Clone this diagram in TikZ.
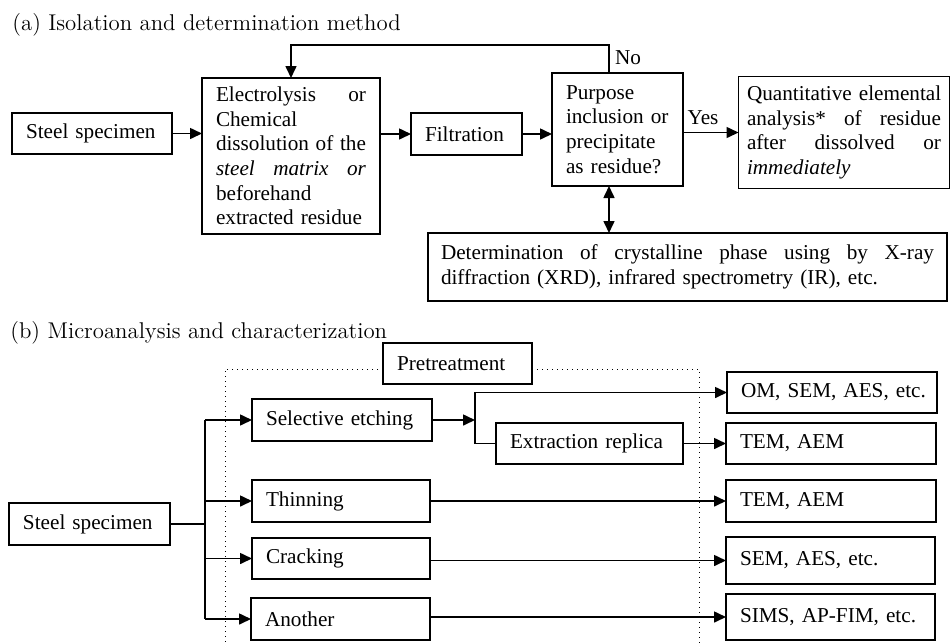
\documentclass[tikz,border=0pt]{standalone}
\usepackage{fontspec}
\usetikzlibrary{arrows.meta}
\newfontfamily\bodyfont{Liberation Serif}
\newfontfamily\titlefont{Latin Modern Roman}
\tikzset{
  every node/.style={font=\bodyfont\fontsize{10.6}{12.3}\selectfont},
  bx/.style={draw, line width=0.8pt, inner xsep=7pt, inner ysep=0pt, outer sep=0pt, align=left},
  ttl/.style={font=\titlefont\fontsize{11.4}{13}\selectfont, anchor=base west, inner sep=0pt},
  lbl/.style={inner sep=0pt},
  arr/.style={line width=0.8pt, -{Triangle[length=6pt,width=5.5pt]}},
  arrb/.style={line width=0.8pt, {Triangle[length=6pt,width=5.5pt]}-{Triangle[length=6pt,width=5.5pt]}},
  ln/.style={line width=0.8pt},
  frame/.style={line width=0.5pt, dotted}
}
\begin{document}
\begin{tikzpicture}[x=0.5pt,y=-0.5pt]
\useasboundingbox (0,0) rectangle (950,644);
% ---------- (a)
\node[ttl] (ta) at (12,30) {(a) Isolation and determination method};
\node[bx, text width=66pt, minimum height=20.5pt] (s1) at (92,133.5) {\mbox{Steel specimen}};
\node[bx, text width=75pt, minimum height=78pt] (e1) at (291,156)
  {Electrolysis\hfill or\\ Chemical\\ dissolution\hfill of\hfill the\\ \textit{steel\hfill matrix\hfill or}\\ beforehand\\ extracted residue};
\node[bx, text width=41.5pt, minimum height=21pt] (f1) at (466.5,134) {\mbox{Filtration}};
\node[bx, text width=51.5pt, minimum height=56.5pt] (p1) at (617.5,129.5)
  {Purpose\\ \mbox{inclusion or}\\ precipitate\\ as residue?};
\node[bx, inner xsep=0pt, text width=97pt, minimum width=105.5pt, minimum height=56pt] (q1) at (844,132.5)
  {\mbox{Quantitative elemental}\\ analysis*\hfill of\hfill residue\\ after\hfill dissolved\hfill or\\ \textit{immediately}};
\node[bx, inner xsep=6.5pt, text width=246.5pt, minimum height=34pt] (det) at (687.5,267)
  {Determination\hfill of\hfill crystalline\hfill phase\hfill using\hfill by\hfill X-ray\\ diffraction (XRD), infrared spectrometry (IR), etc.};
\coordinate (fb) at (609,45);
\draw[arr] (s1.east) -- (s1.east -| e1.west);
\draw[arr] (f1.west -| e1.east) -- (f1.west);
\draw[arr] (f1.east) -- (f1.east -| p1.west);
\draw[arr] (q1.west -| p1.east) -- (q1.west);
\node[lbl] (yes) at (703,118) {Yes};
\draw[arr] (fb |- p1.north) -- (fb) -| (e1.north);
\node[lbl] (no) at (628,58) {No};
\draw[arrb] (fb |- p1.south) -- (fb |- det.north);
% ---------- (b)
\node[ttl] (tb) at (10,338) {(b) Microanalysis and characterization};
\node[bx, text width=60.5pt, minimum height=20.5pt] (pre) at (457.5,363.5) {\mbox{Pretreatment}};
\coordinate (ftl) at (225,369);
\coordinate (ftr) at (699,369);
\coordinate (fbl) at (225,644);
\coordinate (fbr) at (699,644);
\draw[frame] (ftl -| pre.west) -- (ftl) -- (fbl);
\draw[frame] (ftr -| pre.east) -- (ftr) -- (fbr);
\node[bx, text width=66.5pt, minimum height=21pt] (s2) at (89.5,524) {\mbox{Steel specimen}};
\node[bx, text width=76pt, minimum height=21pt] (se) at (342,420) {\mbox{Selective etching}};
\node[bx, text width=79.5pt, minimum height=20.5pt] (er) at (589.5,443.5) {\mbox{Extraction replica}};
\node[bx, text width=75pt, minimum height=21pt] (th) at (341,501) {Thinning};
\node[bx, text width=75pt, minimum height=20.5pt] (cr) at (341,558.5) {Cracking};
\node[bx, text width=75.5pt, minimum height=21pt] (an) at (340.5,619) {Another};
\node[bx, text width=91pt, minimum height=20.5pt] (om) at (832,392.5) {\mbox{OM, SEM, AES, etc.}};
\node[bx, text width=91pt, minimum height=20.5pt] (t1) at (831,443.5) {\mbox{TEM, AEM}};
\node[bx, text width=91pt, minimum height=21pt] (t2) at (831,501) {\mbox{TEM, AEM}};
\node[bx, text width=90.5pt, minimum height=23.5pt] (sa) at (830.5,560.5) {\mbox{SEM, AES, etc.}};
\node[bx, text width=90.5pt, minimum height=23pt] (si) at (830.5,617) {\mbox{SIMS, AP-FIM, etc.}};
\coordinate (bus) at (205,524);
\coordinate (sp) at (475,420);
\draw[ln] (s2.east) -- (bus);
\draw[ln] (bus |- se.west) -- (bus |- an.west);
\draw[arr] (bus |- se.west) -- (se.west);
\draw[arr] (bus |- th.west) -- (th.west);
\draw[arr] (bus |- cr.west) -- (cr.west);
\draw[arr] (bus |- an.west) -- (an.west);
\draw[arr] (se.east) -- (sp);
\draw[arr] (er.west) -| (sp |- om.west) -- (om.west);
\draw[arr] (er.east) -- (t1.west);
\draw[arr] (th.east) -- (t2.west -| th.east) -- (t2.west);
\draw[arr] (sa.west -| cr.east) -- (sa.west);
\draw[arr] (si.west -| an.east) -- (si.west);
\end{tikzpicture}
\end{document}
